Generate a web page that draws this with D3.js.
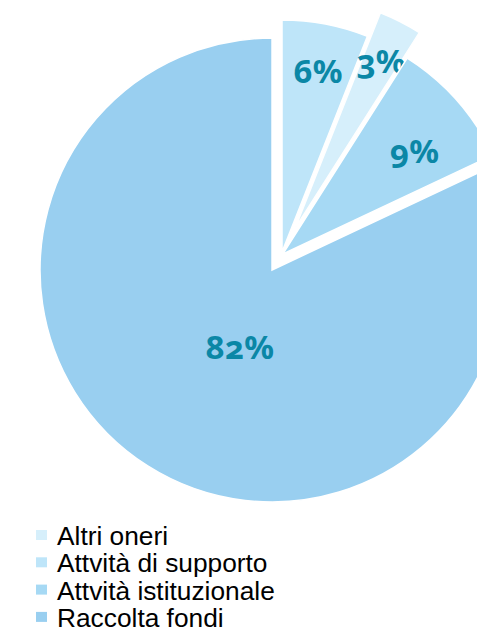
<!DOCTYPE html>
<html>
<head>
<meta charset="utf-8">
<script src="https://cdn.jsdelivr.net/npm/d3@7"></script>
<style>
  html, body { margin: 0; padding: 0; background: #ffffff; }
  svg { display: block; }
</style>
</head>
<body>
<script>
// Categories in legend order, with their shares (%) and fill colours
const categories = ["Altri oneri", "Attvità di supporto", "Attvità istituzionale", "Raccolta fondi"];
const values = [3, 6, 9, 82];
const colors = ["#d6effb", "#bee5f9", "#a6d9f4", "#99cff0"];
const valueLabels = ["3%", "6%", "9%", "82%"];

// Clockwise drawing order of the slices, starting at 12 o'clock
const sliceOrder = ["Attvità di supporto", "Altri oneri", "Attvità istituzionale", "Raccolta fondi"];

// Layout
const W = 477, H = 632;
const cx = 281.4, cy = 255.2, R = 232;
// explosion distance of each slice (by category), label radius and angle nudge (degrees)
const explode = { "Altri oneri": 30, "Attvità di supporto": 3.3, "Attvità istituzionale": 2, "Raccolta fondi": 17.5 };
const labelPos = {
  "Altri oneri": { r: 178, turn: 1.9 },
  "Attvità di supporto": { r: 173, turn: 1.2 },
  "Attvità istituzionale": { r: 160, turn: 6.8 },
  "Raccolta fondi": { r: 95, turn: -12.6 }
};

const svg = d3.select("body").append("svg")
  .attr("width", W).attr("height", H);

const rows = sliceOrder.map(name => {
  const i = categories.indexOf(name);
  return { name, value: values[i], color: colors[i], label: valueLabels[i] };
});

const pie = d3.pie().sort(null).value(d => d.value);
const arc = d3.arc().innerRadius(0).outerRadius(R);
const arcs = pie(rows);

const g = svg.append("g").attr("transform", `translate(${cx},${cy})`);

const slice = g.selectAll("g.slice").data(arcs).join("g")
  .attr("class", "slice")
  .attr("transform", d => {
    const mid = (d.startAngle + d.endAngle) / 2;
    const k = explode[d.data.name];
    return `translate(${k * Math.sin(mid)},${-k * Math.cos(mid)})`;
  });

slice.append("path")
  .attr("d", arc)
  .attr("fill", d => d.data.color)
  .attr("stroke", "#ffffff")
  .attr("stroke-width", 1.5)
  .attr("stroke-linejoin", "miter");

slice.append("text")
  .attr("x", d => {
    const p = labelPos[d.data.name];
    const a = (d.startAngle + d.endAngle) / 2 + p.turn * Math.PI / 180;
    return p.r * Math.sin(a);
  })
  .attr("y", d => {
    const p = labelPos[d.data.name];
    const a = (d.startAngle + d.endAngle) / 2 + p.turn * Math.PI / 180;
    return -p.r * Math.cos(a);
  })
  .attr("text-anchor", "middle")
  .attr("font-family", "'Noto Sans', 'Open Sans', sans-serif")
  .attr("font-weight", 700)
  .attr("font-size", 33)
  .style("font-variant-numeric", "oldstyle-nums")
  .attr("fill", "#0b87a6")
  .text(d => d.data.label);

// Legend
const legend = svg.append("g").selectAll("g").data(categories).join("g")
  .attr("transform", (d, i) => `translate(0,${545 + i * 27.3})`);

legend.append("rect")
  .attr("x", 36).attr("y", -15)
  .attr("width", 11).attr("height", 10)
  .attr("fill", (d, i) => colors[i]);

legend.append("text")
  .attr("x", 57).attr("y", 0)
  .attr("font-family", "'Liberation Sans', Arial, sans-serif")
  .attr("font-size", 26.3)
  .attr("fill", "#000000")
  .text(d => d);
</script>
</body>
</html>
